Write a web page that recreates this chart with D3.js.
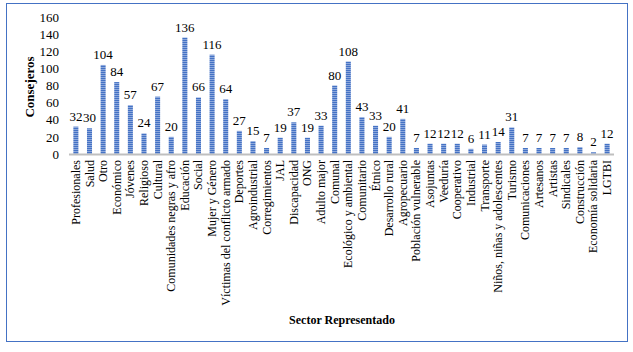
<!DOCTYPE html>
<html><head><meta charset="utf-8">
<script src="https://cdn.jsdelivr.net/npm/d3@7"></script>
<style>body{margin:0;background:#fff}svg{display:block}svg text{font-family:"Liberation Serif","Times New Roman",serif !important}</style>
</head><body><svg id="c" width="633" height="352" font-family="Liberation Serif"></svg>
<script>
const categories = ["Profesionales","Salud","Otro","Económico","Jóvenes","Religioso","Cultural","Comunidades negras y afro","Educación","Social","Mujer y Género","Víctimas del conflicto armado","Deportes","Agroindustrial","Corregimientos","JAL","Discapacidad","ONG","Adulto major","Comunal","Ecológico y ambiental","Comunitario","Étnico","Desarrollo rural","Agropecuario","Población vulnerable","Asojuntas","Veeduría","Cooperativo","Industrial","Transporte","Niños, niñas y adolescentes","Turismo","Comunicaciones","Artesanos","Artistas","Sindicales","Construcción","Economía solidaria","LGTBI"];
const values = [32,30,104,84,57,24,67,20,136,66,116,64,27,15,7,19,37,19,33,80,108,43,33,20,41,7,12,12,12,6,11,14,31,7,7,7,7,8,2,12];
const yTicks = [0,20,40,60,80,100,120,140,160];

const svg = d3.select("#c");
svg.append("rect").attr("x",6.5).attr("y",3.5).attr("width",621).attr("height",338)
  .attr("fill","#fff").attr("stroke","#4472C4").attr("stroke-width",1);

const defs = svg.append("defs");
const pat = defs.append("pattern").attr("id","stripe").attr("patternUnits","userSpaceOnUse")
  .attr("width",4).attr("height",2);
pat.append("rect").attr("width",4).attr("height",2).attr("fill","#9fb6e3");
pat.append("rect").attr("width",4).attr("height",1.2).attr("fill","#4472C4");

const x = d3.scaleBand().domain(categories).range([69,614]).paddingInner(0.63).paddingOuter(0.32);
const y = d3.scaleLinear().domain([0,160]).range([154,17]);

// y axis labels
const yAxis = d3.axisLeft(y).tickValues(yTicks).tickSize(0).tickPadding(0);
const gy = svg.append("g").attr("transform","translate(59,0)").call(yAxis)
  .attr("font-family","Liberation Serif").attr("font-size",13);
gy.select(".domain").remove();
gy.selectAll("text").attr("fill","#000");

// bars
svg.append("g").selectAll("rect").data(values).join("rect")
  .attr("x",(d,i)=>x(categories[i])).attr("width",x.bandwidth())
  .attr("y",d=>y(d)).attr("height",d=>y(0)-y(d)).attr("fill","url(#stripe)");

// baseline
svg.append("line").attr("x1",69).attr("x2",614).attr("y1",y(0)+0.5).attr("y2",y(0)+0.5)
  .attr("stroke","#bfbfbf").attr("stroke-width",2);

// data labels
svg.append("g").attr("font-family","Liberation Serif").selectAll("text").data(values).join("text")
  .attr("x",(d,i)=>x(categories[i])+x.bandwidth()/2).attr("y",d=>y(d)-6)
  .attr("text-anchor","middle").attr("font-size",13).attr("fill","#000").text(d=>d);

// x axis labels
const xAxis = d3.axisBottom(x).tickSize(0).tickPadding(0);
const gx = svg.append("g").attr("transform",`translate(0,${y(0)})`).call(xAxis)
  .attr("font-family","Liberation Serif").attr("font-size",12);
gx.select(".domain").remove();
gx.selectAll("text").attr("fill","#000")
  .attr("text-anchor","end").attr("dy",null).attr("y",0)
  .attr("transform","translate(4,6) rotate(-90)");

// axis titles
svg.append("text").attr("transform","translate(34,87) rotate(-90)")
  .attr("text-anchor","middle").attr("font-size",13).attr("font-weight","bold").text("Consejeros");
svg.append("text").attr("x",342).attr("y",324)
  .attr("text-anchor","middle").attr("font-size",12).attr("font-weight","bold").text("Sector Representado");
</script></body></html>
